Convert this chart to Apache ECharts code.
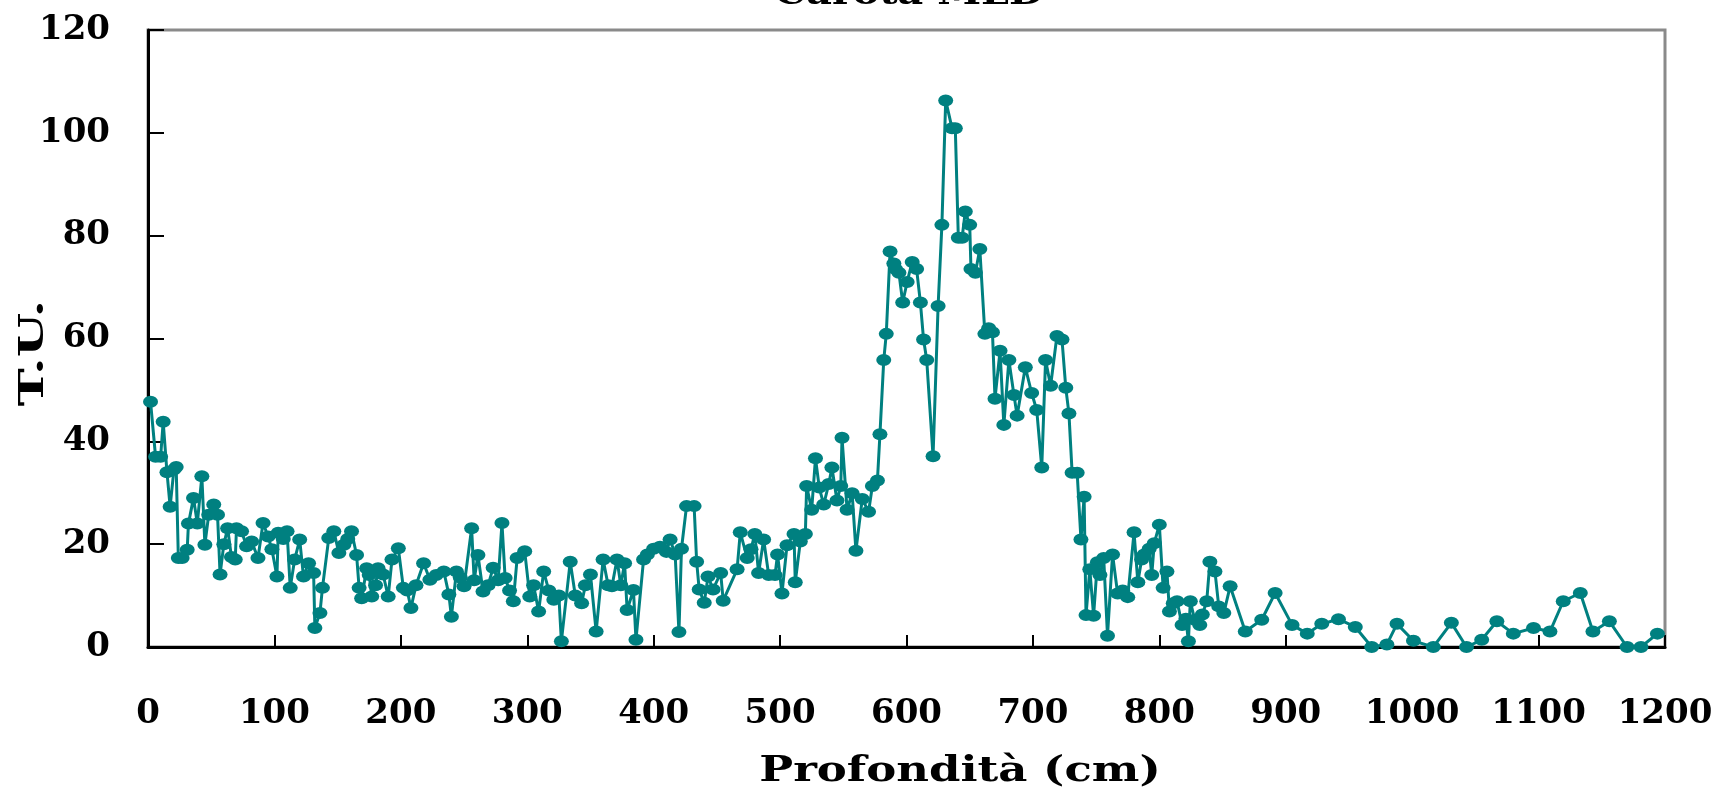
<!DOCTYPE html>
<html>
<head>
<meta charset="utf-8">
<script src="https://cdn.jsdelivr.net/npm/echarts@6/dist/echarts.min.js"></script>
<style>
html,body{margin:0;padding:0;background:#fff;}
#chart{width:1729px;height:797px;}
</style>
</head>
<body>
<div id="chart"></div>
<script>
const titleText = 'Carota MLD';
const xName = 'Profondità (cm)';
const yName = 'T.U.';
const xTicks = [0,100,200,300,400,500,600,700,800,900,1000,1100,1200];
const yTicks = [0,20,40,60,80,100,120];

const depth = [
2,6,10,12,15,17.5,20.5,22.3,24,27,31,32,36,39,42.6,45,48,52,55,57,60,63,66,69,70,74,78,82,87,91,95,98,
102,103,107,110,112.5,116,120,123,127,131,132,136,138,143,147,151,155,158,161,165,167,169,173,175,177,180,182,186,190,193,198,
202,205,208,212,218,223,228,234,238,240,244,247,250,256,258,261,265,269,273,277,280,282.5,286,289,292,298,
302,305,309,313,317,321,325,327,334,338,343,346,350,354.5,360,364,367,371,374,377,379,384,386,392,395,
400,405,410,413,417,420,422,426,432,434,436,440,443,447,453,455,466,468.5,474,477,480,483,487,491,496,498,
501.5,505.5,511,512,516,520,521,525,528,531,534.5,538.5,541,545,548,549,553,557,560,565,570,573,577,579,582,584,587,590,591.3,594,597,
600.5,604.5,608,611,613.5,616,621,625,628,631,636,638.6,641,644,646.5,650,651,654.5,658,662,665,668,670,674,677,681,685,687.5,694,699,
703,707,710,714,719,723,726,728.5,731,735,738,740.5,742,745,748,751,753,756,759,763,767,771,775,780,783,786,788,792,794,796,
800,803,806,808,811,814,818,821,823,824.5,828,832,834,837.5,840,844,847,851,856,868,881,891.6,905,917,928.5,941.7,955,968,980,988,
1001,1016.7,1031,1043,1055,1067,1080,1096,1109,1119.5,1133,1143,1156,1170,1181,1194
];
const tu = [
47.7,37,37,43.8,34,27.3,34.5,35,17.3,17.3,18.9,24,29,24,33.2,19.9,25.7,27.7,25.7,14.1,20,23.1,17.5,17,23.1,22.5,19.6,20.5,17.3,24.1,21.5,19,
13.7,22.2,21,22.5,11.5,17,20.9,13.7,16.3,14.4,3.7,6.6,11.5,21.2,22.5,18.3,19.9,21,22.5,17.9,11.5,9.5,15.3,14,9.8,12,15.3,14.1,9.8,17,19.2,
11.5,11,7.6,12,16.3,13.1,14,14.7,10.2,5.9,14.7,13.5,11.8,23.1,13,17.9,10.8,12,15.4,13,24.1,13.4,11,8.9,17.3,18.6,
9.8,12,6.9,14.7,11,9.2,10,1.1,16.6,10,8.5,12,14.1,3,17,12,11.8,17,12,16.3,7.2,11.1,1.4,17,18,
19.1,19.5,18.5,20.9,18,2.9,19.1,27.4,27.4,16.6,11.2,8.6,13.7,11.2,14.4,9,15.1,22.3,17.3,19,22,14.4,20.9,14,14,18,
10.4,19.8,22,12.6,20.5,22,31.3,26.7,36.7,31,27.7,31.7,34.9,28.5,31.3,40.7,26.7,29.9,18.7,28.8,26.3,31.3,32.4,41.4,55.8,60.9,76.9,74.6,73.5,72.8,67,
71,74.9,73.5,67,59.8,55.8,37.1,66.3,82.1,106.3,100.9,100.9,79.6,79.6,84.7,82.1,73.5,72.8,77.4,60.9,62,61.2,48.3,57.6,43.2,55.8,49,45,54.4,49.4,
46.1,34.9,55.8,50.8,60.5,59.8,50.4,45.4,33.9,33.9,20.9,29.2,6.2,15.1,6.1,16.5,14,17.3,2.2,18,10.4,11,9.7,22.3,12.6,17,18,19.1,14,20.2,
23.8,11.5,14.7,6.9,8.5,8.9,4.3,5.5,1.1,8.9,5.3,4.3,6.3,8.9,16.6,14.7,7.9,6.6,11.8,3,5.3,10.5,4.3,2.6,4.5,5.4,3.9,0,0.5,4.5,
1.2,0,4.7,0,1.4,5,2.6,3.7,3,8.9,10.5,3,5,0,0,2.6
];

const points = depth.map((d, i) => [d, tu[i]]);
const FONT = '"DejaVu Serif", "Liberation Serif", serif';

const chart = echarts.init(document.getElementById('chart'), null, {renderer: 'canvas'});
chart.setOption({
  backgroundColor: '#ffffff',
  animation: false,
  grid: {
    left: 148, right: 64, top: 30, bottom: 150,
    show: true, borderColor: '#8a8a8a', borderWidth: 3, backgroundColor: 'transparent'
  },
  xAxis: {
    type: 'value',
    min: xTicks[0], max: xTicks[xTicks.length - 1], interval: 100,
    axisLine: {show: true, onZero: false, lineStyle: {color: '#000', width: 3}},
    axisTick: {show: true, inside: true, length: 12, lineStyle: {color: '#000', width: 2}},
    axisLabel: {margin: 50, color: '#000', fontFamily: FONT, fontWeight: 'bold', fontSize: 34,
      formatter: v => String(v)},
    splitLine: {show: false}
  },
  yAxis: {
    type: 'value',
    min: yTicks[0], max: yTicks[yTicks.length - 1], interval: 20,
    axisLine: {show: true, onZero: false, lineStyle: {color: '#000', width: 3}},
    axisTick: {show: true, inside: true, length: 16, lineStyle: {color: '#000', width: 2}},
    axisLabel: {margin: 38, color: '#000', fontFamily: FONT, fontWeight: 'bold', fontSize: 34,
      formatter: v => String(v)},
    splitLine: {show: false}
  },
  graphic: [
    {type: 'text', x: 909, y: -4, scaleX: 1.24, silent: true,
     style: {text: titleText, fill: '#000', font: 'bold 32px ' + FONT, textAlign: 'center', textVerticalAlign: 'middle'}},
    {type: 'text', x: 960, y: 772, scaleX: 1.25, silent: true,
     style: {text: xName, fill: '#000', font: 'bold 36px ' + FONT, textAlign: 'center', textVerticalAlign: 'middle'}},
    {type: 'text', x: 34, y: 353, rotation: Math.PI / 2, scaleX: 1.5, silent: true,
     style: {text: yName, fill: '#000', font: 'bold 34px ' + FONT, textAlign: 'center', textVerticalAlign: 'middle'}}
  ],
  series: [{
    type: 'line',
    data: points,
    symbol: 'circle',
    symbolSize: [15, 12],
    showAllSymbol: true,
    clip: false,
    lineStyle: {color: '#008080', width: 3},
    itemStyle: {color: '#008080'}
  }]
});
</script>
</body>
</html>
